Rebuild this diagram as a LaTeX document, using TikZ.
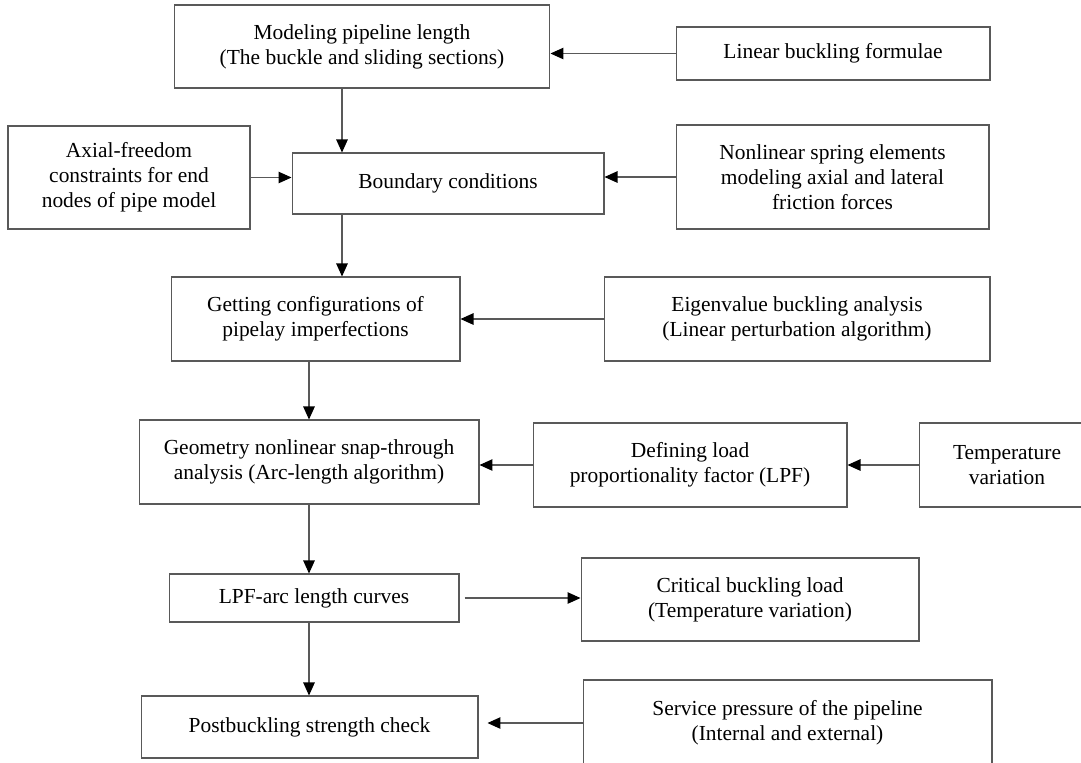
\documentclass[tikz,border=0pt]{standalone}
\usepackage{fontspec}
\setmainfont{Liberation Serif}
\usetikzlibrary{arrows.meta}

\begin{document}
\begin{tikzpicture}[x=0.02cm, y=-0.02cm, font=\fontsize{12.2}{14.2}\selectfont,
	box/.style={draw=black!65, line width=0.6pt, align=center, inner sep=2pt},
	flow/.style={draw=black!65, line width=0.6pt, -{Triangle[length=0.26cm, width=0.23cm, color=black]}}]
	\useasboundingbox (0,0) rectangle (1081,762);
	\clip (0,0) rectangle (1081,762);
	% main column
	\node[box, minimum width=7.52cm, minimum height=1.66cm] (model) at (362,46.5) {Modeling pipeline length\\(The buckle and sliding sections)};
	\node[box, minimum width=6.24cm, minimum height=1.22cm] (boundary) at (448,183.5) {Boundary conditions};
	\node[box, minimum width=5.78cm, minimum height=1.68cm] (getting) at (315.5,319) {Getting configurations of\\pipelay imperfections};
	\node[box, minimum width=6.8cm, minimum height=1.68cm] (geometry) at (309,462) {Geometry nonlinear snap-through\\analysis (Arc-length algorithm)};
	\node[box, minimum width=5.8cm, minimum height=0.96cm] (lpf) at (314,598) {LPF-arc length curves};
	\node[box, minimum width=6.74cm, minimum height=1.24cm] (post) at (309.5,727) {Postbuckling strength check};
	% side inputs
	\node[box, minimum width=6.28cm, minimum height=1.06cm] (linear) at (833,53.5) {Linear buckling formulae};
	\node[box, minimum width=4.84cm, minimum height=2.06cm] (axial) at (129,177.5) {Axial-freedom\\constraints for end\\nodes of pipe model};
	\node[box, minimum width=6.26cm, minimum height=2.08cm] (spring) at (832.5,177) {Nonlinear spring elements\\modeling axial and lateral\\friction forces};
	\node[box, minimum width=7.72cm, minimum height=1.68cm] (eigen) at (797,319) {Eigenvalue buckling analysis\\(Linear perturbation algorithm)};
	\node[box, minimum width=6.28cm, minimum height=1.68cm] (defining) at (690,465) {Defining load\\proportionality factor (LPF)};
	\node[box, minimum width=3.52cm, minimum height=1.68cm] (temp) at (1007,465) {Temperature\\variation};
	\node[box, minimum width=6.76cm, minimum height=1.66cm] (critical) at (750,599.5) {Critical buckling load\\(Temperature variation)};
	\node[box, minimum width=8.18cm, minimum height=1.72cm] (service) at (787.5,723) {Service pressure of the pipeline\\(Internal and external)};
	\coordinate (spine) at (342,0);
	% connectors
	\draw[flow] (model.south -| spine) -- (boundary.north -| spine);
	\draw[flow] (boundary.south -| spine) -- (getting.north -| spine);
	\draw[flow] (getting.south -| geometry) -- (geometry.north);
	\draw[flow] (geometry.south) -- (geometry.south |- lpf.north);
	\draw[flow] (lpf.south -| geometry) -- (post.north -| geometry);
	\draw[flow] (linear.west) -- (linear.west -| model.east);
	\draw[flow] (axial.east) -- (axial.east -| boundary.west);
	\draw[flow] (spring.west) -- (spring.west -| boundary.east);
	\draw[flow] (eigen.west) -- (eigen.west -| getting.east);
	\draw[flow] (defining.west) -- (defining.west -| geometry.east);
	\draw[flow] (temp.west) -- (temp.west -| defining.east);
	\draw[flow, shorten <=0.1cm] (lpf.east) -- (lpf.east -| critical.west);
	\draw[flow, shorten >=0.18cm] (service.west) -- (service.west -| post.east);
\end{tikzpicture}
\end{document}
